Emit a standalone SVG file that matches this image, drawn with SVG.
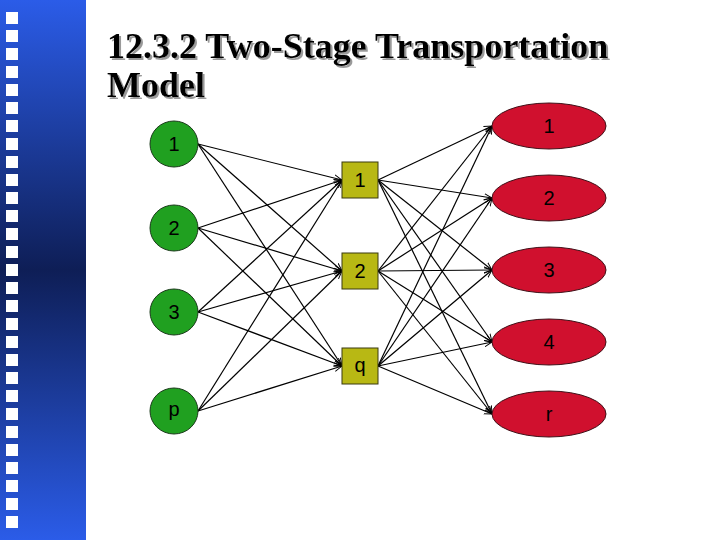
<svg xmlns="http://www.w3.org/2000/svg" width="720" height="540" viewBox="0 0 720 540">
<defs>
<linearGradient id="bar" x1="0" y1="0" x2="0" y2="1">
<stop offset="0" stop-color="#2b5ce8"/>
<stop offset="0.5" stop-color="#0e1e56"/>
<stop offset="1" stop-color="#2b5ce8"/>
</linearGradient>
<filter id="shadow" x="-5%" y="-20%" width="110%" height="150%">
<feDropShadow dx="2" dy="2" stdDeviation="0.4" flood-color="#9a9a9a" flood-opacity="1"/>
</filter>
<marker id="arr" viewBox="0 0 10 10" refX="10" refY="5" markerWidth="8" markerHeight="8" markerUnits="userSpaceOnUse" orient="auto">
<path d="M0,1 L10,5 L0,9" fill="none" stroke="#000" stroke-width="1.2"/>
</marker>
</defs>
<style>
.t{font-family:"Liberation Serif","Times New Roman",serif;font-weight:bold;font-size:36px;fill:#000}
.lbl{font-family:"Liberation Sans",Arial,sans-serif;font-size:20px;fill:#000;text-anchor:middle}
.src{fill:#20a020;stroke:#1a3a1a;stroke-width:1}
.mid{fill:#b8b814;stroke:#3a3a10;stroke-width:1}
.dst{fill:#d0102e;stroke:#401018;stroke-width:1}
.e{stroke:#000;stroke-width:1.2;fill:none;marker-end:url(#arr)}
.sq{fill:#fff}
</style>
<rect x="0" y="0" width="720" height="540" fill="#fff"/>
<g id="sidebar">
<rect x="0" y="0" width="86" height="540" fill="url(#bar)"/>
<g class="sq">
<rect x="6" y="12" width="12" height="12"/><rect x="6" y="30" width="12" height="12"/><rect x="6" y="48" width="12" height="12"/><rect x="6" y="66" width="12" height="12"/><rect x="6" y="84" width="12" height="12"/><rect x="6" y="102" width="12" height="12"/><rect x="6" y="120" width="12" height="12"/><rect x="6" y="138" width="12" height="12"/><rect x="6" y="156" width="12" height="12"/><rect x="6" y="174" width="12" height="12"/><rect x="6" y="192" width="12" height="12"/><rect x="6" y="210" width="12" height="12"/><rect x="6" y="228" width="12" height="12"/><rect x="6" y="246" width="12" height="12"/><rect x="6" y="264" width="12" height="12"/><rect x="6" y="282" width="12" height="12"/><rect x="6" y="300" width="12" height="12"/><rect x="6" y="318" width="12" height="12"/><rect x="6" y="336" width="12" height="12"/><rect x="6" y="354" width="12" height="12"/><rect x="6" y="372" width="12" height="12"/><rect x="6" y="390" width="12" height="12"/><rect x="6" y="408" width="12" height="12"/><rect x="6" y="426" width="12" height="12"/><rect x="6" y="444" width="12" height="12"/><rect x="6" y="462" width="12" height="12"/><rect x="6" y="480" width="12" height="12"/><rect x="6" y="498" width="12" height="12"/><rect x="6" y="516" width="12" height="12"/>
</g>
</g>
<g id="title" filter="url(#shadow)">
<text class="t" x="107" y="58">12.3.2 Two-Stage Transportation</text>
<text class="t" x="107" y="97">Model</text>
</g>
<g id="connectors">
<line class="e" x1="198" y1="144" x2="342" y2="180"/>
<line class="e" x1="198" y1="144" x2="342" y2="271"/>
<line class="e" x1="198" y1="144" x2="342" y2="366"/>
<line class="e" x1="198" y1="228" x2="342" y2="180"/>
<line class="e" x1="198" y1="228" x2="342" y2="271"/>
<line class="e" x1="198" y1="228" x2="342" y2="366"/>
<line class="e" x1="198" y1="312" x2="342" y2="180"/>
<line class="e" x1="198" y1="312" x2="342" y2="271"/>
<line class="e" x1="198" y1="312" x2="342" y2="366"/>
<line class="e" x1="198" y1="411" x2="342" y2="180"/>
<line class="e" x1="198" y1="411" x2="342" y2="271"/>
<line class="e" x1="198" y1="411" x2="342" y2="366"/>
<line class="e" x1="378" y1="180" x2="492" y2="126"/>
<line class="e" x1="378" y1="180" x2="492" y2="198"/>
<line class="e" x1="378" y1="180" x2="492" y2="270"/>
<line class="e" x1="378" y1="180" x2="492" y2="342"/>
<line class="e" x1="378" y1="180" x2="492" y2="414"/>
<line class="e" x1="378" y1="271" x2="492" y2="126"/>
<line class="e" x1="378" y1="271" x2="492" y2="198"/>
<line class="e" x1="378" y1="271" x2="492" y2="270"/>
<line class="e" x1="378" y1="271" x2="492" y2="342"/>
<line class="e" x1="378" y1="271" x2="492" y2="414"/>
<line class="e" x1="378" y1="366" x2="492" y2="126"/>
<line class="e" x1="378" y1="366" x2="492" y2="198"/>
<line class="e" x1="378" y1="366" x2="492" y2="270"/>
<line class="e" x1="378" y1="366" x2="492" y2="342"/>
<line class="e" x1="378" y1="366" x2="492" y2="414"/>
</g>
<g id="src1"><ellipse class="src" cx="174" cy="144" rx="24" ry="23"/><text class="lbl" x="174" y="151">1</text></g>
<g id="src2"><ellipse class="src" cx="174" cy="228" rx="24" ry="23"/><text class="lbl" x="174" y="235">2</text></g>
<g id="src3"><ellipse class="src" cx="174" cy="312" rx="24" ry="23"/><text class="lbl" x="174" y="319">3</text></g>
<g id="srcp"><ellipse class="src" cx="174" cy="411" rx="24" ry="23"/><text class="lbl" x="174" y="416">p</text></g>
<g id="mid1"><rect class="mid" x="342" y="162" width="36" height="36"/><text class="lbl" x="360" y="187">1</text></g>
<g id="mid2"><rect class="mid" x="342" y="253" width="36" height="36"/><text class="lbl" x="360" y="278">2</text></g>
<g id="midq"><rect class="mid" x="342" y="348" width="36" height="36"/><text class="lbl" x="360" y="372">q</text></g>
<g id="dst1"><ellipse class="dst" cx="549" cy="126" rx="57" ry="23"/><text class="lbl" x="549" y="133">1</text></g>
<g id="dst2"><ellipse class="dst" cx="549" cy="198" rx="57" ry="23"/><text class="lbl" x="549" y="205">2</text></g>
<g id="dst3"><ellipse class="dst" cx="549" cy="270" rx="57" ry="23"/><text class="lbl" x="549" y="277">3</text></g>
<g id="dst4"><ellipse class="dst" cx="549" cy="342" rx="57" ry="23"/><text class="lbl" x="549" y="349">4</text></g>
<g id="dstr"><ellipse class="dst" cx="549" cy="414" rx="57" ry="23"/><text class="lbl" x="549" y="421">r</text></g>
</svg>
